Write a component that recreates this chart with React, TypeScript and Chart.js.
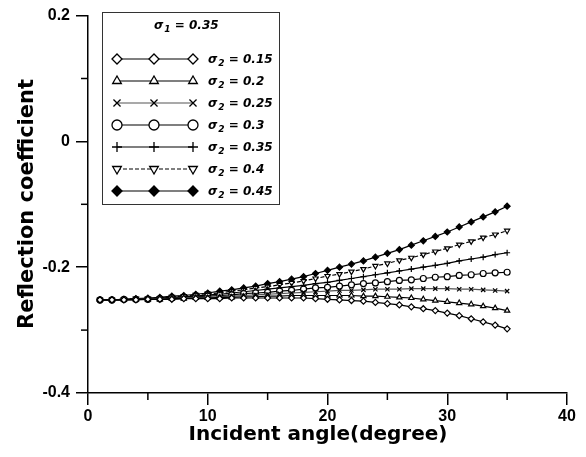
import React, { useEffect, useRef } from "react";
import { Chart, registerables } from "chart.js";
import { drawPoint } from "chart.js/helpers";

Chart.register(...registerables);

const angles = [1, 2, 3, 4, 5, 6, 7, 8, 9, 10, 11, 12, 13, 14, 15, 16, 17, 18, 19, 20, 21, 22, 23, 24, 25, 26, 27, 28, 29, 30, 31, 32, 33, 34, 35];

const s015 = [-0.252, -0.252, -0.252, -0.252, -0.251, -0.251, -0.251, -0.250, -0.250, -0.250, -0.250, -0.249, -0.249, -0.249, -0.249, -0.249, -0.249, -0.249, -0.250, -0.251, -0.252, -0.253, -0.254, -0.256, -0.258, -0.260, -0.263, -0.266, -0.269, -0.273, -0.277, -0.282, -0.287, -0.292, -0.298];
const s020 = [-0.252, -0.252, -0.252, -0.251, -0.251, -0.251, -0.250, -0.250, -0.249, -0.249, -0.248, -0.248, -0.247, -0.247, -0.246, -0.246, -0.245, -0.245, -0.245, -0.245, -0.245, -0.245, -0.246, -0.246, -0.247, -0.248, -0.249, -0.251, -0.253, -0.255, -0.257, -0.259, -0.262, -0.265, -0.269];
const s025 = [-0.252, -0.252, -0.252, -0.251, -0.251, -0.250, -0.250, -0.249, -0.248, -0.248, -0.247, -0.246, -0.245, -0.244, -0.243, -0.242, -0.241, -0.240, -0.239, -0.238, -0.237, -0.237, -0.236, -0.235, -0.235, -0.235, -0.234, -0.234, -0.234, -0.234, -0.235, -0.235, -0.236, -0.237, -0.238];
const s030 = [-0.252, -0.252, -0.251, -0.251, -0.251, -0.250, -0.249, -0.248, -0.247, -0.246, -0.245, -0.244, -0.242, -0.241, -0.240, -0.238, -0.237, -0.235, -0.233, -0.232, -0.230, -0.228, -0.226, -0.225, -0.223, -0.221, -0.220, -0.218, -0.216, -0.215, -0.213, -0.212, -0.210, -0.209, -0.208];
const s035 = [-0.252, -0.252, -0.251, -0.251, -0.250, -0.249, -0.248, -0.247, -0.246, -0.244, -0.243, -0.241, -0.239, -0.237, -0.235, -0.233, -0.231, -0.229, -0.226, -0.224, -0.221, -0.218, -0.215, -0.212, -0.209, -0.206, -0.203, -0.200, -0.197, -0.194, -0.190, -0.187, -0.184, -0.180, -0.177];
const s040 = [-0.252, -0.252, -0.251, -0.250, -0.250, -0.249, -0.247, -0.246, -0.244, -0.242, -0.241, -0.238, -0.236, -0.233, -0.231, -0.228, -0.225, -0.222, -0.218, -0.214, -0.211, -0.207, -0.203, -0.198, -0.194, -0.189, -0.185, -0.180, -0.175, -0.170, -0.164, -0.159, -0.153, -0.148, -0.142];
const s045 = [-0.252, -0.252, -0.251, -0.250, -0.249, -0.248, -0.246, -0.245, -0.243, -0.241, -0.238, -0.236, -0.233, -0.230, -0.226, -0.223, -0.219, -0.215, -0.210, -0.205, -0.200, -0.195, -0.190, -0.184, -0.178, -0.172, -0.165, -0.158, -0.151, -0.144, -0.136, -0.128, -0.120, -0.112, -0.103];

const sigma1Label = "0.35";
const sigma2Labels = ["0.15", "0.2", "0.25", "0.3", "0.35", "0.4", "0.45"];
const xTitle = "Incident angle(degree)";
const yTitle = "Reflection coefficient";

const seriesValues = [s015, s020, s025, s030, s035, s040, s045];

const seriesStyles = [
  { pointStyle: "rectRot", rotation: 0, fill: "#fff", line: "#000", dash: [] as number[] },
  { pointStyle: "triangle", rotation: 0, fill: "#fff", line: "#000", dash: [] as number[] },
  { pointStyle: "crossRot", rotation: 0, fill: "#fff", line: "#555", dash: [] as number[] },
  { pointStyle: "circle", rotation: 0, fill: "#fff", line: "#000", dash: [] as number[] },
  { pointStyle: "cross", rotation: 0, fill: "#fff", line: "#000", dash: [] as number[] },
  { pointStyle: "triangle", rotation: 180, fill: "#fff", line: "#000", dash: [4, 2] },
  { pointStyle: "rectRot", rotation: 0, fill: "#000", line: "#000", dash: [] as number[] },
];

const overlayPlugin = {
  id: "overlay",
  afterDraw(chart: any) {
    const ctx = chart.ctx;
    const xs = chart.scales.x;
    const ys = chart.scales.y;
    ctx.save();
    // minor ticks
    ctx.strokeStyle = "#000";
    ctx.lineWidth = 1.5;
    const xb = ys.bottom;
    [5, 15, 25, 35].forEach((v) => {
      const px = xs.getPixelForValue(v);
      ctx.beginPath();
      ctx.moveTo(px, xb);
      ctx.lineTo(px, xb + 7);
      ctx.stroke();
    });
    const yl = xs.left;
    [0.1, -0.1, -0.3].forEach((v) => {
      const py = ys.getPixelForValue(v);
      ctx.beginPath();
      ctx.moveTo(yl, py);
      ctx.lineTo(yl - 7, py);
      ctx.stroke();
    });

    // axis titles
    ctx.fillStyle = "#000";
    ctx.font = 'bold 20px "DejaVu Sans"';
    ctx.textAlign = "center";
    ctx.textBaseline = "alphabetic";
    ctx.fillText(xTitle, 318, 440);
    ctx.save();
    ctx.translate(33, 204);
    ctx.rotate(-Math.PI / 2);
    ctx.font = 'bold 21px "DejaVu Sans"';
    ctx.fillText(yTitle, 0, 0);
    ctx.restore();

    // legend box
    ctx.strokeStyle = "#333";
    ctx.lineWidth = 1;
    ctx.strokeRect(102.5, 12.5, 177, 192);

    const drawSigma = (x: number, y: number, sub: string, rest: string) => {
      ctx.textAlign = "left";
      ctx.textBaseline = "alphabetic";
      ctx.fillStyle = "#000";
      ctx.font = 'italic bold 12px "DejaVu Sans"';
      ctx.fillText("\u03c3", x, y);
      let w = ctx.measureText("\u03c3").width;
      ctx.font = 'italic bold 9px "DejaVu Sans"';
      ctx.fillText(sub, x + w + 1, y + 3);
      w += ctx.measureText(sub).width + 1;
      ctx.font = 'italic bold 12px "DejaVu Sans"';
      ctx.fillText(" = " + rest, x + w, y);
    };

    drawSigma(154, 29, "1", sigma1Label);

    const rowY = [59, 81, 103, 125, 147, 169, 191];
    const markerX = [117, 154, 193];
    sigma2Labels.forEach((lab, i) => {
      const st = seriesStyles[i];
      const y = rowY[i];
      ctx.strokeStyle = st.line;
      ctx.lineWidth = 1.2;
      ctx.setLineDash(st.dash);
      ctx.beginPath();
      ctx.moveTo(markerX[0], y);
      ctx.lineTo(markerX[2], y);
      ctx.stroke();
      ctx.setLineDash([]);
      markerX.forEach((mx) => {
        ctx.fillStyle = st.fill;
        ctx.strokeStyle = "#000";
        ctx.lineWidth = 1.3;
        drawPoint(ctx, { pointStyle: st.pointStyle, rotation: st.rotation, radius: 5, borderWidth: 1.3 }, mx, y);
      });
      drawSigma(208, y + 4, "2", lab);
    });
    ctx.restore();
  },
};

export default function App() {
  const ref = useRef<HTMLCanvasElement | null>(null);
  useEffect(() => {
    if (!ref.current) return;
    const datasets = seriesValues.map((vals, i) => {
      const st = seriesStyles[i];
      return {
        label: "\u03c32 = " + sigma2Labels[i],
        data: angles.map((a, j) => ({ x: a, y: vals[j] })),
        borderColor: st.line,
        borderWidth: 1.2,
        borderDash: st.dash,
        pointStyle: st.pointStyle,
        pointRotation: st.rotation,
        pointRadius: 3,
        pointBorderWidth: 1.2,
        pointBorderColor: "#000",
        pointBackgroundColor: st.fill,
        tension: 0,
        fill: false,
      };
    });
    const chart = new Chart(ref.current, {
      type: "line",
      data: { datasets },
      options: {
        animation: false,
        responsive: false,
        maintainAspectRatio: false,
        layout: { padding: { left: 0, top: 13, right: 19, bottom: 0 } },
        plugins: { legend: { display: false }, tooltip: { enabled: false } },
        scales: {
          x: {
            type: "linear",
            min: 0,
            max: 40,
            afterFit: (s: any) => {
              s.height = 64;
            },
            ticks: {
              stepSize: 5,
              autoSkip: false,
              maxRotation: 0,
              padding: 2,
              color: "#000",
              font: { family: '"Liberation Sans", Arial', size: 16, weight: "bold" },
              callback: (v: any) => (Math.round(v) % 10 === 0 ? String(Math.round(v)) : ""),
            },
            grid: {
              display: true,
              drawOnChartArea: false,
              drawTicks: true,
              tickLength: 12,
              lineWidth: 1.5,
              color: (c: any) => (c.tick && Math.round(c.tick.value) % 10 === 0 ? "#000" : "rgba(0,0,0,0)"),
            },
            border: { display: true, color: "#000", width: 1.5 },
          },
          y: {
            type: "linear",
            min: -0.4,
            max: 0.2,
            afterFit: (s: any) => {
              s.width = 88;
            },
            ticks: {
              stepSize: 0.1,
              autoSkip: false,
              padding: 6,
              color: "#000",
              font: { family: '"Liberation Sans", Arial', size: 16, weight: "bold" },
              callback: (v: any) => {
                const k = Math.round(v * 10);
                if (k % 2 !== 0) return "";
                return k === 0 ? "0" : (k / 10).toFixed(1);
              },
            },
            grid: {
              display: true,
              drawOnChartArea: false,
              drawTicks: true,
              tickLength: 12,
              lineWidth: 1.5,
              color: (c: any) => (c.tick && Math.round(c.tick.value * 10) % 2 === 0 ? "#000" : "rgba(0,0,0,0)"),
            },
            border: { display: true, color: "#000", width: 1.5 },
          },
        },
      },
      plugins: [overlayPlugin],
    });
    return () => chart.destroy();
  }, []);
  return (
    <div style={{ position: "fixed", left: 0, top: 0, width: 586, height: 457, background: "#fff" }}>
      <canvas ref={ref} width={586} height={457} style={{ display: "block", width: 586, height: 457 }} />
    </div>
  );
}
